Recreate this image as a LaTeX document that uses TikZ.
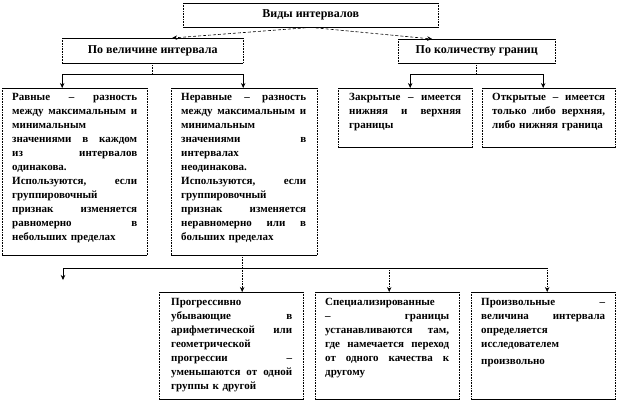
\documentclass[tikz,border=0pt]{standalone}
\usepackage{fontspec}
\setmainfont{Liberation Serif}
\usetikzlibrary{arrows.meta,calc}
\setlength\parindent{0pt}
\newlength\jlw
\newcommand\jl[1]{\makebox[\jlw][s]{\spaceskip=0.3em plus 1fil\relax #1}}
\begin{document}
\begin{tikzpicture}[x=1pt,y=-1pt,
  frame/.style={draw=none, inner sep=0pt, anchor=north west},
  head/.style={frame, font=\fontsize{12}{14}\selectfont\bfseries, align=center},
  txt/.style={inner sep=0pt, anchor=north west, align=left, font=\fontsize{11}{14}\selectfont\bfseries,
    text width=#1, execute at begin node={\setlength\jlw{#1}}},
  arr/.style={-{Stealth[length=5pt,width=4.5pt]}},
  lk/.style={line width=0.6pt},
]
\useasboundingbox (0,0) rectangle (618,402);
% header boxes
\node[head, minimum width=255pt, minimum height=24pt] (t) at (183,3) {Виды интервалов};
\node[head, minimum width=181pt, minimum height=25pt] (v) at (62,38) {По величине интервала};
\node[head, minimum width=157pt, minimum height=24pt] (k) at (398,39) {По количеству границ};
% content boxes
\node[frame, minimum width=145pt, minimum height=167pt] (r1) at (2,88) {};
\node[frame, minimum width=146pt, minimum height=167pt] (r2) at (171,88) {};
\node[frame, minimum width=134pt, minimum height=59pt] (c1) at (338,88) {};
\node[frame, minimum width=133pt, minimum height=59pt] (c2) at (482,88) {};
\node[frame, minimum width=144pt, minimum height=107pt] (pA) at (159,292) {};
\node[frame, minimum width=144pt, minimum height=107pt] (pB) at (315,292) {};
\node[frame, minimum width=144pt, minimum height=107pt] (pC) at (471,292) {};
% borders
\foreach \n in {t,v,k,r1,r2,c1,c2,pA,pB,pC}{
  \draw[lk] (\n.north west) -- (\n.north east) (\n.south west) -- (\n.south east);
  \draw[lk, densely dotted] (\n.north west) -- (\n.south west) (\n.north east) -- (\n.south east);
}
% texts
\node[txt=125pt] (r1t) at ([xshift=10pt,yshift=-5pt]r1.north west)
 {\jl{Равные – разность}\\ \jl{между максимальным и}\\ минимальным\\ \jl{значениями в каждом}\\ \jl{из интервалов}\\ одинакова.\\
  \jl{Используются, если}\\ группировочный\\ \jl{признак изменяется}\\ \jl{равномерно в}\\ небольших пределах};
\node[txt=125pt] (r2t) at ([xshift=10pt,yshift=-5pt]r2.north west)
 {\jl{Неравные – разность}\\ \jl{между максимальным и}\\ минимальным\\ \jl{значениями в}\\ интервалах\\ неодинакова.\\
  \jl{Используются, если}\\ группировочный\\ \jl{признак изменяется}\\ \jl{неравномерно или в}\\ больших пределах};
\node[txt=112pt] (c1t) at ([xshift=11pt,yshift=-5pt]c1.north west)
 {\jl{Закрытые – имеется}\\ \jl{нижняя и верхняя}\\ границы};
\node[txt=113pt] (c2t) at ([xshift=10pt,yshift=-5pt]c2.north west)
 {\jl{Открытые – имеется}\\ \jl{только либо верхняя,}\\ либо нижняя граница};
\node[txt=121pt] (pAt) at ([xshift=12pt,yshift=-6pt]pA.north west)
 {Прогрессивно\\ \jl{убывающие в}\\ \jl{арифметической или}\\ геометрической\\ \jl{прогрессии –}\\ \jl{уменьшаются от одной}\\ группы к другой};
\node[txt=124pt] (pBt) at ([xshift=10pt,yshift=-6pt]pB.north west)
 {\jl{Специализированные}\\ \jl{– границы}\\ \jl{устанавливаются там,}\\ \jl{где намечается переход}\\ \jl{от одного качества к}\\ другому};
\node[txt=124pt] (pCt) at ([xshift=10pt,yshift=-6pt]pC.north west)
 {\jl{Произвольные –}\\ \jl{величина интервала}\\ определяется\\ исследователем\\[3pt] произвольно};
% connectors from title
\draw[lk, densely dashed, arr] (t.south) -- ([xshift=19.5pt]v.north);
\draw[lk, densely dashed, arr] (t.south) -- ([xshift=-44.5pt]k.north);
% left group
\coordinate (a1) at ([xshift=-12.5pt]r1.north);
\coordinate (a2) at ([xshift=-1pt]r2.north);
\draw[lk, densely dotted] (v.south) -- ++(0,11) coordinate (vb);
\draw[lk] (a1 |- vb) -- (a2 |- vb);
\draw[lk, arr] (a1 |- vb) -- (a1);
\draw[lk, arr] (a2 |- vb) -- (a2);
% right group
\coordinate (a3) at ([xshift=5pt]c1.north);
\coordinate (a4) at ([xshift=-5.5pt]c2.north);
\draw[lk, densely dotted] (k.south) -- ++(0,11) coordinate (kb);
\draw[lk] (a3 |- kb) -- (a4 |- kb);
\draw[lk, arr] (a3 |- kb) -- (a3);
\draw[lk, arr] (a4 |- kb) -- (a4);
% bottom group
\coordinate (a5) at ([xshift=-2pt]r2.south);
\coordinate (a5e) at (a5 |- pA.north);
\coordinate (a6) at ([xshift=2pt]pB.north);
\coordinate (a7) at ([xshift=4pt]pC.north);
\path (r2.south) ++(0,13) coordinate (bb);
\coordinate (lf) at (63,280);
\draw[lk] (lf |- bb) -- (a7 |- bb);
\draw[lk, densely dotted, arr] (a5) -- (a5e);
\draw[lk, arr] (lf |- bb) -- (lf);
\draw[lk, densely dotted, arr] (a6 |- bb) -- (a6);
\draw[lk, densely dotted, arr] (a7 |- bb) -- (a7);
\end{tikzpicture}
\end{document}
